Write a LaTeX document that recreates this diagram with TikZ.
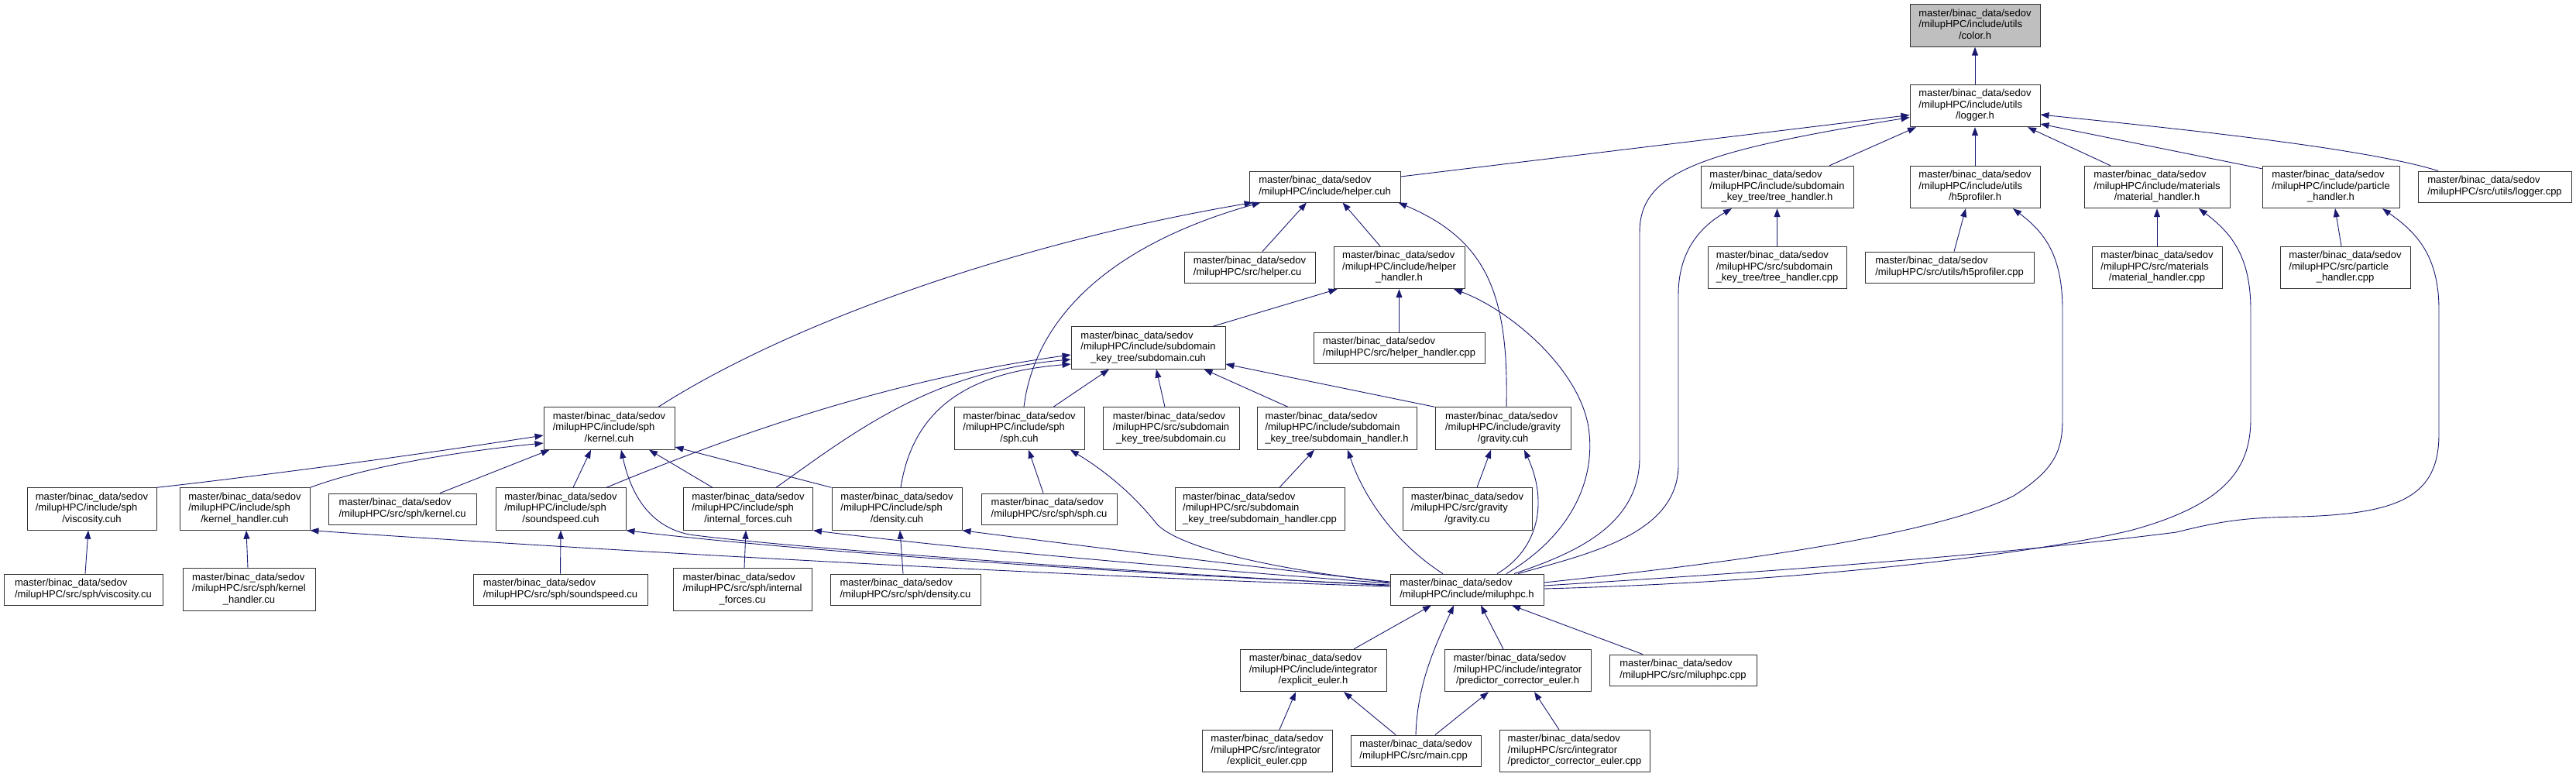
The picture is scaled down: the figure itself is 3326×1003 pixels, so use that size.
\documentclass[tikz,border=0pt]{standalone}
\usepackage{fontspec}
\setmainfont{Liberation Sans}
\usetikzlibrary{calc,arrows.meta}
\definecolor{edgeblue}{RGB}{25,25,112}
\definecolor{boxline}{RGB}{50,50,50}
\definecolor{rootfill}{RGB}{191,191,191}
\newcommand{\LabA}[3]{\begin{tabular}{@{}l@{}}#1\\#2\\\multicolumn{1}{@{}c@{}}{#3}\end{tabular}}
\newcommand{\LabB}[2]{\begin{tabular}{@{}l@{}}#1\\#2\end{tabular}}
\newcommand{\MB}{master/binac\_data/sedov}
\tikzset{
  filebox/.style={draw=boxline, line width=0.9pt, fill=white, inner xsep=0pt, inner ysep=5.5pt,
    font=\fontsize{13pt}{14.5pt}\selectfont, anchor=center},
  rootbox/.style={filebox, fill=rootfill},
  edge/.style={draw=edgeblue, line width=0.9pt, -{Triangle[length=11pt,width=8pt]}}
}
\begin{document}
\begin{tikzpicture}[x=1pt,y=-1pt]
\useasboundingbox (0,0) rectangle (3326,1003);
\fill[white] (0,0) rectangle (3326,1003);
% row 0-1
\node[rootbox,minimum width=168pt] (color) at (2550,33) {\LabA{\MB}{/milupHPC/include/utils}{/color.h}};
\node[filebox,minimum width=168pt] (logger) at (2550,136.5) {\LabA{\MB}{/milupHPC/include/utils}{/logger.h}};
% row 2
\node[filebox,minimum width=195pt] (helpercuh) at (1710.5,241) {\LabB{\MB}{/milupHPC/include/helper.cuh}};
\node[filebox,minimum width=197pt] (treeh) at (2294.5,241.5) {\LabA{\MB}{/milupHPC/include/subdomain}{\_key\_tree/tree\_handler.h}};
\node[filebox,minimum width=168pt] (h5h) at (2550,241.5) {\LabA{\MB}{/milupHPC/include/utils}{/h5profiler.h}};
\node[filebox,minimum width=188pt] (math) at (2785,241.5) {\LabA{\MB}{/milupHPC/include/materials}{/material\_handler.h}};
\node[filebox,minimum width=177pt] (parth) at (3009.5,241.5) {\LabA{\MB}{/milupHPC/include/particle}{\_handler.h}};
\node[filebox,minimum width=198pt] (loggercpp) at (3221,241) {\LabB{\MB}{/milupHPC/src/utils/logger.cpp}};
% row 3
\node[filebox,minimum width=169pt] (helpercu) at (1613.5,345) {\LabB{\MB}{/milupHPC/src/helper.cu}};
\node[filebox,minimum width=169pt] (hhh) at (1806.5,345.5) {\LabA{\MB}{/milupHPC/include/helper}{\_handler.h}};
\node[filebox,minimum width=179pt] (treecpp) at (2294.5,345.5) {\LabA{\MB}{/milupHPC/src/subdomain}{\_key\_tree/tree\_handler.cpp}};
\node[filebox,minimum width=218pt] (h5cpp) at (2517,345) {\LabB{\MB}{/milupHPC/src/utils/h5profiler.cpp}};
\node[filebox,minimum width=168pt] (matcpp) at (2785,345.5) {\LabA{\MB}{/milupHPC/src/materials}{/material\_handler.cpp}};
\node[filebox,minimum width=168pt] (partcpp) at (3028,345.5) {\LabA{\MB}{/milupHPC/src/particle}{\_handler.cpp}};
% row 4
\node[filebox,minimum width=199pt] (subcuh) at (1482.5,449) {\LabA{\MB}{/milupHPC/include/subdomain}{\_key\_tree/subdomain.cuh}};
\node[filebox,minimum width=221pt] (hhcpp) at (1806.5,449) {\LabB{\MB}{/milupHPC/src/helper\_handler.cpp}};
% row 5
\node[filebox,minimum width=169pt] (kernel) at (786.5,553) {\LabA{\MB}{/milupHPC/include/sph}{/kernel.cuh}};
\node[filebox,minimum width=168pt] (sph) at (1316,553) {\LabA{\MB}{/milupHPC/include/sph}{/sph.cuh}};
\node[filebox,minimum width=176pt] (subcu) at (1512,553) {\LabA{\MB}{/milupHPC/src/subdomain}{\_key\_tree/subdomain.cu}};
\node[filebox,minimum width=206pt] (subh) at (1726,553) {\LabA{\MB}{/milupHPC/include/subdomain}{\_key\_tree/subdomain\_handler.h}};
\node[filebox,minimum width=175pt] (grav) at (1940.5,553) {\LabA{\MB}{/milupHPC/include/gravity}{/gravity.cuh}};
% row 6
\node[filebox,minimum width=167pt] (visc) at (118.5,657) {\LabA{\MB}{/milupHPC/include/sph}{/viscosity.cuh}};
\node[filebox,minimum width=168pt] (khcuh) at (316,657) {\LabA{\MB}{/milupHPC/include/sph}{/kernel\_handler.cuh}};
\node[filebox,minimum width=191pt] (kernelcu) at (519.5,657) {\LabB{\MB}{/milupHPC/src/sph/kernel.cu}};
\node[filebox,minimum width=168pt] (sound) at (724,657) {\LabA{\MB}{/milupHPC/include/sph}{/soundspeed.cuh}};
\node[filebox,minimum width=167pt] (intf) at (966,657) {\LabA{\MB}{/milupHPC/include/sph}{/internal\_forces.cuh}};
\node[filebox,minimum width=168pt] (dens) at (1158,657) {\LabA{\MB}{/milupHPC/include/sph}{/density.cuh}};
\node[filebox,minimum width=175pt] (sphcu) at (1354.5,657) {\LabB{\MB}{/milupHPC/src/sph/sph.cu}};
\node[filebox,minimum width=219pt] (subhcpp) at (1626.5,657) {\LabA{\MB}{/milupHPC/src/subdomain}{\_key\_tree/subdomain\_handler.cpp}};
\node[filebox,minimum width=167pt] (gravcu) at (1894.5,657) {\LabA{\MB}{/milupHPC/src/gravity}{/gravity.cu}};
% row 7
\node[filebox,minimum width=205pt] (visccu) at (107.5,761) {\LabB{\MB}{/milupHPC/src/sph/viscosity.cu}};
\node[filebox,minimum width=171pt] (khcu) at (321.5,761) {\LabA{\MB}{/milupHPC/src/sph/kernel}{\_handler.cu}};
\node[filebox,minimum width=225pt] (soundcu) at (723.5,761) {\LabB{\MB}{/milupHPC/src/sph/soundspeed.cu}};
\node[filebox,minimum width=179pt] (intfcu) at (958.5,761) {\LabA{\MB}{/milupHPC/src/sph/internal}{\_forces.cu}};
\node[filebox,minimum width=194pt] (denscu) at (1169,761) {\LabB{\MB}{/milupHPC/src/sph/density.cu}};
\node[filebox,minimum width=198pt] (mil) at (1894,761) {\LabB{\MB}{/milupHPC/include/miluphpc.h}};
% row 8
\node[filebox,minimum width=189pt] (eeh) at (1695.5,865.5) {\LabA{\MB}{/milupHPC/include/integrator}{/explicit\_euler.h}};
\node[filebox,minimum width=189pt] (pceh) at (1959.5,865.5) {\LabA{\MB}{/milupHPC/include/integrator}{/predictor\_corrector\_euler.h}};
\node[filebox,minimum width=190pt] (milcpp) at (2173,865) {\LabB{\MB}{/milupHPC/src/miluphpc.cpp}};
% row 9
\node[filebox,minimum width=168pt] (eecpp) at (1636,969.5) {\LabA{\MB}{/milupHPC/src/integrator}{/explicit\_euler.cpp}};
\node[filebox,minimum width=168pt] (main) at (1828,969) {\LabB{\MB}{/milupHPC/src/main.cpp}};
\node[filebox,minimum width=194pt] (pcecpp) at (2033,969.5) {\LabA{\MB}{/milupHPC/src/integrator}{/predictor\_corrector\_euler.cpp}};

% ---- edges ----
\draw[edge] (logger.north) -- (color.south);
\draw[edge] ($(helpercuh.east)+(0,-13)$) -- ($(logger.west)+(0,12)$);
\draw[edge] ($(mil.north)+(61,0)$) .. controls (2030,715) and (2117,680) .. (2117,590) -- (2117,300) .. controls (2117,220) and (2200,195) .. ($(logger.west)+(0,15)$);
\draw[edge] ($(treeh.north)+(67.5,0)$) -- ($(logger.south)+(-76,0)$);
\draw[edge] ($(mil.north)+(66,0)$) .. controls (2050,715) and (2167,690) .. (2167,600) -- (2167,380) .. controls (2167,320) and (2200,290) .. ($(treeh.south)+(-58.5,0)$);
\draw[edge] (h5h.north) -- (logger.south);
\draw[edge] ($(math.north)+(-60,0)$) -- ($(logger.south)+(68,0)$);
\draw[edge] ($(parth.north west)+(0,4)$) -- ($(logger.east)+(0,23.5)$);
\draw[edge] ($(loggercpp.north)+(-73,0)$) .. controls (3050,190) and (2800,165) .. ($(logger.east)+(0,11.5)$);
\draw[edge] (treecpp.north) -- (treeh.south);
\draw[edge] ($(h5cpp.north)+(6,0)$) -- ($(h5h.south)+(-12,0)$);
\draw[edge] (matcpp.north) -- (math.south);
\draw[edge] ($(partcpp.north)+(-5,0)$) -- ($(parth.south)+(5.5,0)$);
\draw[edge] ($(mil.east)+(0,-9)$) .. controls (2250,725) and (2500,690) .. (2600,640) .. controls (2655,605) and (2663,580) .. (2663,540) -- (2663,400) .. controls (2663,330) and (2640,300) .. ($(h5h.south)+(49,0)$);
\draw[edge] ($(mil.east)+(0,-1)$) .. controls (2300,752) and (2600,720) .. (2750,685) .. controls (2880,650) and (2906,600) .. (2906,540) -- (2906,400) .. controls (2906,330) and (2880,300) .. ($(math.south)+(54,0)$);
\draw[edge] ($(mil.east)+(0,-5)$) .. controls (2250,740) and (2550,720) .. (2810,687) .. controls (2870,672) and (2900,668) .. (2970,667) .. controls (3100,663) and (3149,640) .. (3149,560) -- (3149,400) .. controls (3149,330) and (3120,300) .. ($(parth.south)+(66.5,0)$);
\draw[edge] ($(helpercu.north)+(16.5,0)$) -- ($(helpercuh.south)+(-23.5,0)$);
\draw[edge] ($(hhh.north)+(-24.5,0)$) -- ($(helpercuh.south)+(23,0)$);
\draw[edge] ($(kernel.north)+(63.5,0)$) .. controls (1030,410) and (1330,310) .. ($(helpercuh.south west)+(5,0)$);
\draw[edge] ($(sph.north)+(6,0)$) .. controls (1335,420) and (1420,320) .. ($(helpercuh.south west)+(15,0)$);
\draw[edge] ($(grav.north)+(4.5,0)$) .. controls (1948,380) and (1920,310) .. ($(helpercuh.south east)+(-3,0)$);
\draw[edge] (hhcpp.north) -- (hhh.south);
\draw[edge] ($(subcuh.north)+(83.5,0)$) -- ($(hhh.south west)+(5,0)$);
\draw[edge] ($(mil.north)+(51,0)$) .. controls (2030,690) and (2058,620) .. (2052,560) .. controls (2045,480) and (1950,400) .. ($(hhh.south)+(70.5,0)$);
\draw[edge] ($(subh.north)+(-63,0)$) -- ($(subcuh.south)+(72,0)$);
\draw[edge] ($(subcu.north)+(-8,0)$) -- ($(subcuh.south)+(10.5,0)$);
\draw[edge] ($(sph.north)+(44,0)$) -- ($(subcuh.south)+(-50.5,0)$);
\draw[edge] (grav.north west) -- ($(subcuh.east)+(0,21)$);
\draw[edge] ($(sound.north)+(59,0)$) .. controls (950,560) and (1150,490) .. ($(subcuh.west)+(0,9)$);
\draw[edge] ($(intf.north)+(36,0)$) .. controls (1100,560) and (1200,480) .. ($(subcuh.west)+(0,15)$);
\draw[edge] ($(dens.north)+(5,0)$) .. controls (1180,520) and (1260,480) .. ($(subcuh.west)+(0,21)$);
\draw[edge] (visc.north east) .. controls (330,615) and (520,590) .. ($(kernel.west)+(0,9)$);
\draw[edge] (khcuh.north east) .. controls (480,600) and (600,582) .. ($(kernel.west)+(0,19)$);
\draw[edge] ($(kernelcu.north)+(48.5,0)$) -- ($(kernel.south west)+(8,0)$);
\draw[edge] ($(sound.north)+(16,0)$) -- ($(kernel.south)+(-23.5,0)$);
\draw[edge] ($(intf.north)+(-46,0)$) -- ($(kernel.south)+(51.5,0)$);
\draw[edge] (dens.north west) -- ($(kernel.east)+(0,24)$);
\draw[edge] ($(mil.west)+(0,-5)$) .. controls (1400,735) and (1000,705) .. (890,690) .. controls (840,680) and (815,640) .. ($(kernel.south)+(15.5,0)$);
\draw[edge] ($(mil.west)+(0,-4)$) .. controls (1400,745) and (800,712) .. (khcuh.south east);
\draw[edge] ($(mil.west)+(0,-6)$) .. controls (1400,738) and (1000,708) .. (sound.south east);
\draw[edge] ($(mil.west)+(0,-8)$) .. controls (1550,735) and (1250,710) .. (intf.south east);
\draw[edge] ($(mil.west)+(0,-10)$) .. controls (1600,730) and (1400,705) .. (dens.south east);
\draw[edge] ($(mil.west)+(0,-9)$) .. controls (1650,735) and (1530,710) .. (1495,678) .. controls (1465,640) and (1430,610) .. ($(sph.south)+(66,0)$);
\draw[edge] ($(mil.north)+(-31,0)$) .. controls (1800,700) and (1760,640) .. ($(subh.south)+(14,0)$);
\draw[edge] ($(subhcpp.north)+(25.5,0)$) -- ($(subh.south)+(-29,0)$);
\draw[edge] ($(gravcu.north)+(12.5,0)$) -- ($(grav.south)+(-15.5,0)$);
\draw[edge] ($(mil.north)+(39,0)$) .. controls (1985,710) and (2000,650) .. ($(grav.south)+(27.5,0)$);
\draw[edge] ($(intfcu.north)+(2.5,0)$) -- ($(intf.south)+(-3,0)$);
\draw[edge] ($(denscu.north)+(-3,0)$) -- ($(dens.south)+(4,0)$);
\draw[edge] ($(sphcu.north)+(-7.5,0)$) -- ($(sph.south)+(12,0)$);
\draw[edge] ($(visccu.north)+(2.5,0)$) -- ($(visc.south)+(-4.5,0)$);
\draw[edge] ($(khcu.north)+(-1.5,0)$) -- ($(khcuh.south)+(2,0)$);
\draw[edge] (soundcu.north) -- (sound.south);
\draw[edge] ($(eeh.north)+(52.5,0)$) -- ($(mil.south)+(-46,0)$);
\draw[edge] (main.north) .. controls (1830,880) and (1855,830) .. ($(mil.south)+(-17,0)$);
\draw[edge] ($(pceh.north)+(-18.5,0)$) -- ($(mil.south)+(18,0)$);
\draw[edge] ($(milcpp.north)+(-52,0)$) -- ($(mil.south)+(58,0)$);
\draw[edge] ($(main.north)+(-26,0)$) -- ($(eeh.south)+(39.5,0)$);
\draw[edge] ($(main.north)+(25,0)$) -- ($(pceh.south)+(-37.5,0)$);
\draw[edge] ($(eecpp.north)+(16,0)$) -- ($(eeh.south)+(-22.5,0)$);
\draw[edge] ($(pcecpp.north)+(-20,0)$) -- ($(pceh.south)+(21.5,0)$);
\end{tikzpicture}
\end{document}
